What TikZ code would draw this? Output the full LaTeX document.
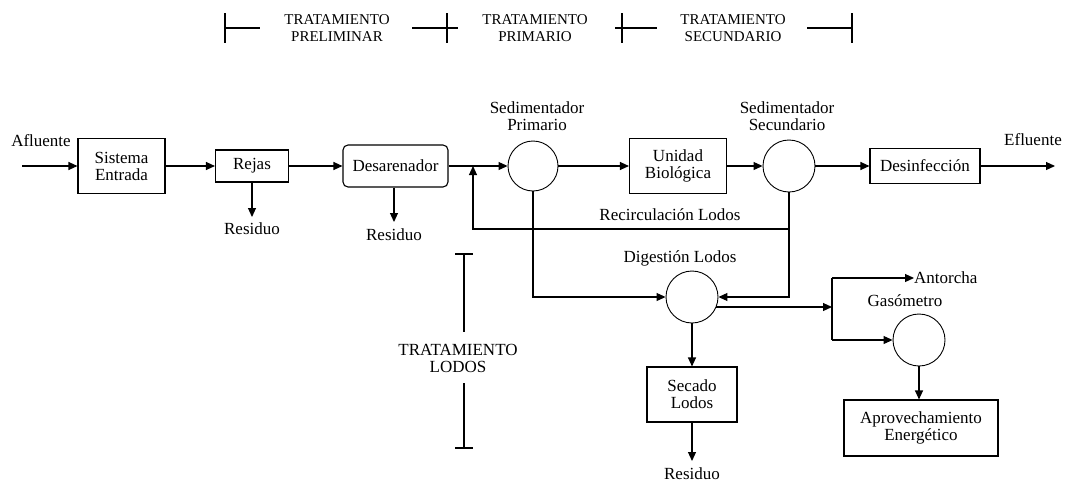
\documentclass[tikz,border=0pt]{standalone}
\usepackage{fontspec}
\setmainfont{Liberation Serif}
\usetikzlibrary{arrows.meta}
\begin{document}
\begin{tikzpicture}[x=1pt,y=-1pt,
  every node/.style={font=\fontsize{17}{17}\selectfont, align=center, inner sep=0pt},
  box/.style={draw, line width=1.1pt},
  tank/.style={draw, circle, line width=0.9pt, minimum size=52pt},
  flow/.style={line width=1.1pt, -{Triangle[length=9pt,width=8pt]}},
  wire/.style={line width=1.1pt},
  res/.style={anchor=north, inner ysep=6pt},
  hdr/.style={font=\fontsize{15}{17}\selectfont}
]
\fill[white] (0,0) rectangle (1066,485);
\useasboundingbox (0,0) rectangle (1066,485);

% ---- treatment stage header ----
\node[hdr] (h1) at (337,28) {TRATAMIENTO\\PRELIMINAR};
\node[hdr] (h2) at (535,28) {TRATAMIENTO\\PRIMARIO};
\node[hdr] (h3) at (733,28) {TRATAMIENTO\\SECUNDARIO};
\draw[wire] (225,13) -- (225,43) (225,28) -- (260,28);
\draw[wire] (412,28) -- (458,28) (447,13) -- (447,43);
\draw[wire] (615,28) -- (657,28) (622,13) -- (622,43);
\draw[wire] (807,28) -- (852,28) (852,13) -- (852,43);

% ---- water line ----
\node (afl) at (41,141) {Afluente};
\coordinate (ain) at (22,166);
\node[box, minimum width=87pt, minimum height=55pt] (sis) at (121.5,166) {Sistema\\Entrada};
\node[box, minimum width=73pt, minimum height=32pt] (rej) at (252,166) {Rejas};
\node[box, rounded corners=5pt, minimum width=105pt, minimum height=42pt] (des) at (395.5,166) {Desarenador};
\node[tank, minimum size=50pt] (sp) at (533,166) {};
\node (spl) at (537,116) {Sedimentador\\Primario};
\node[box, minimum width=97pt, minimum height=55pt] (ub) at (678,166) {Unidad\\Biológica};
\node[tank] (ss) at (789,166) {};
\node (ssl) at (787,116) {Sedimentador\\Secundario};
\node[box, minimum width=110pt, minimum height=35pt] (dsf) at (925,166) {Desinfección};
\node (efl) at (1033,140) {Efluente};
\coordinate (eout) at (1055,166);

\node[res] (r1) at (252,217) {Residuo};
\node[res] (r2) at (394,222) {Residuo};

\draw[flow] (ain) -- (sis.west);
\draw[flow] (sis.east) -- (rej.west);
\draw[flow] (rej.east) -- (des.west);
\draw[flow] (des.east) -- (sp.west);
\draw[flow] (sp.east) -- (ub.west);
\draw[flow] (ub.east) -- (ss.west);
\draw[flow] (ss.east) -- (dsf.west);
\draw[flow] (dsf.east) -- (eout);
\draw[flow] (rej.south) -- (r1.north);
\draw[flow] (des.south -| r2) -- (r2.north);

% ---- sludge recirculation ----
\coordinate (rc) at (473,229);
\node (rcl) at (670,215) {Recirculación Lodos};

% ---- sludge line ----
\node[tank] (dig) at (692,297) {};
\node (digl) at (680,258) {Digestión Lodos};
\node[box, minimum width=90pt, minimum height=55pt] (sec) at (692,394.5) {Secado\\Lodos};
\node[res] (r3) at (692,461) {Residuo};

\draw[flow] (ss.south) -- (ss.south |- dig.east) -- (dig.east);
\draw[flow] (ss.south |- rc) -- (rc) -- (rc |- des.east);
\draw[flow] (sp.south) -- (sp.south |- dig.west) -- (dig.west);
\draw[flow] (dig.south) -- (sec.north);
\draw[flow] (sec.south) -- (r3.north);

% ---- biogas ----
\coordinate (gtop) at (832,278);
\coordinate (gmid) at (832,307);
\coordinate (gbot) at (832,340);
\node[anchor=west] (ant) at (914,278) {Antorcha};
\node[tank] (gas) at (919,340) {};
\node (gasl) at (905,301) {Gasómetro};
\node[box, minimum width=154pt, minimum height=56pt] (apr) at (921,428) {Aprovechamiento\\Energético};

\draw[flow] (dig.337 |- gmid) -- (gmid);
\draw[wire] (gtop) -- (gbot);
\draw[flow] (gtop) -- (ant.west);
\draw[flow] (gbot) -- (gas.west);
\draw[flow] (gas.south) -- (gas.south |- apr.north);

% ---- sludge treatment bracket ----
\node (tl) at (458,358) {TRATAMIENTO\\LODOS};
\draw[wire] (455,254) -- (473,254) (464,254) -- (464,332);
\draw[wire] (464,383) -- (464,448) (455,448) -- (473,448);
\end{tikzpicture}
\end{document}
